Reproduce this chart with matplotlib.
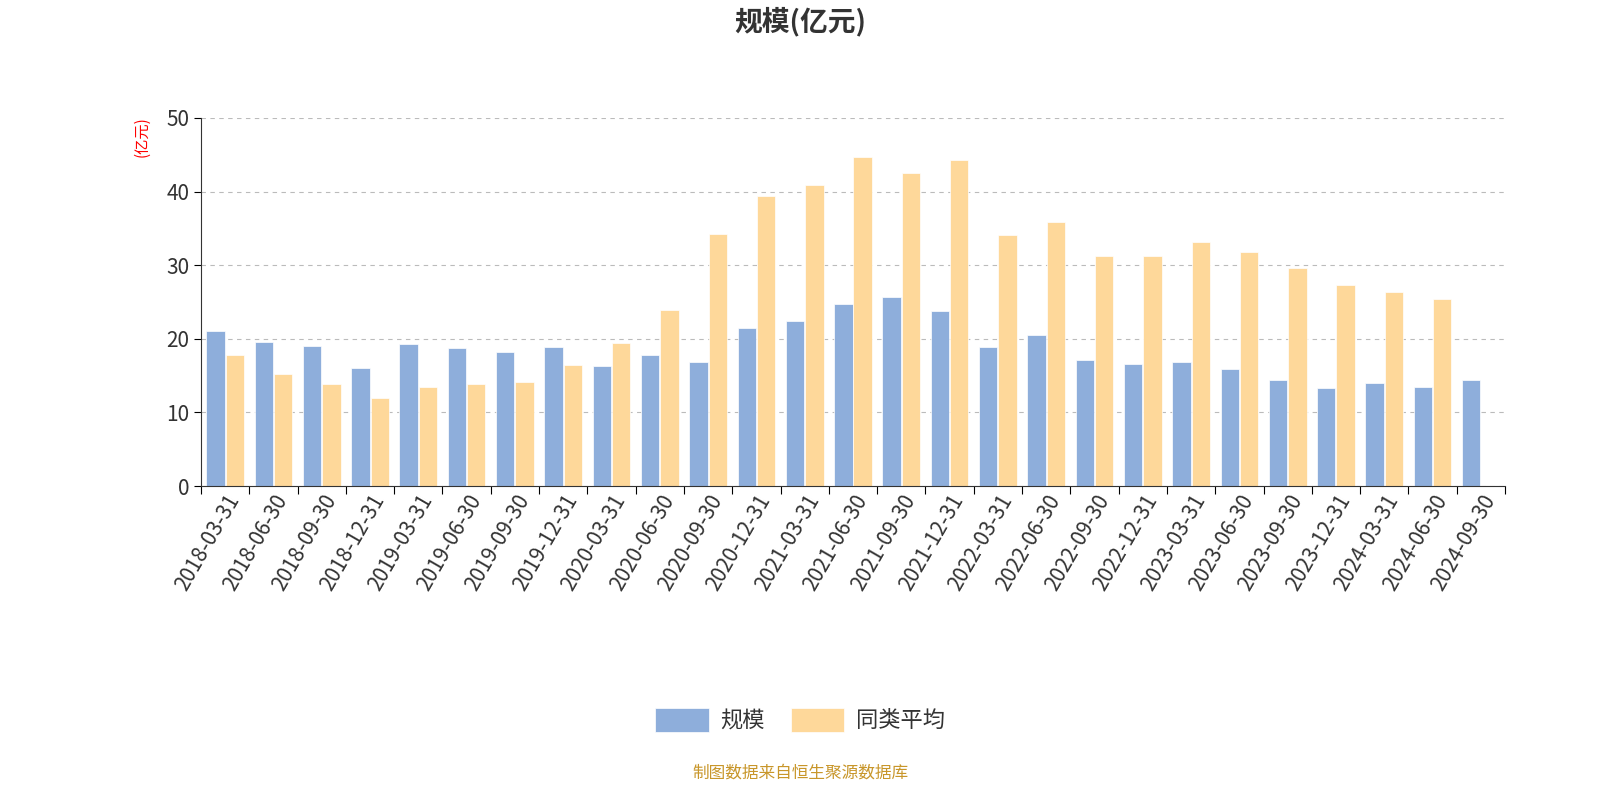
import matplotlib
matplotlib.use("Agg")
import matplotlib.pyplot as plt
from matplotlib import font_manager as fm
import numpy as np

cjk = None
for f in fm.findSystemFonts():
    if 'NotoSansCJK' in f.replace(' ', '') or 'CJK' in f:
        try:
            fm.fontManager.addfont(f)
        except Exception:
            pass
names = sorted({e.name for e in fm.fontManager.ttflist if 'CJK' in e.name})
for pref in ['Noto Sans CJK SC', 'Noto Sans CJK JP']:
    if pref in names:
        cjk = pref; break
if cjk is None and names:
    cjk = names[0]
plt.rcParams['font.family'] = [cjk] if cjk else ['DejaVu Sans']
plt.rcParams['axes.unicode_minus'] = False

dates = ["2018-03-31","2018-06-30","2018-09-30","2018-12-31","2019-03-31","2019-06-30","2019-09-30","2019-12-31",
         "2020-03-31","2020-06-30","2020-09-30","2020-12-31","2021-03-31","2021-06-30","2021-09-30","2021-12-31",
         "2022-03-31","2022-06-30","2022-09-30","2022-12-31","2023-03-31","2023-06-30","2023-09-30","2023-12-31",
         "2024-03-31","2024-06-30","2024-09-30"]
scale = [21.1,19.6,19.0,16.0,19.3,18.75,18.2,18.9,16.3,17.8,16.8,21.5,22.4,24.7,25.7,23.8,
         18.9,20.5,17.1,16.6,16.8,15.9,14.4,13.3,14.0,13.4,14.4]
peer = [17.8,15.2,13.9,12.0,13.5,13.9,14.1,16.4,19.4,23.9,34.2,39.4,40.9,44.7,42.5,44.3,
        34.1,35.9,31.2,31.2,33.2,31.8,29.6,27.3,26.4,25.4,np.nan]

fig = plt.figure(figsize=(16, 8), dpi=100)
ax = fig.add_axes([201/1600, 1-486/800, (1505-201)/1600, (486-118)/800])
x = np.arange(len(dates))
w = 0.38
ax.bar(x - 0.2, scale, w, color='#8eaedb', edgecolor='white', linewidth=0.5, label='规模')
ax.bar(x + 0.2, peer, w, color='#fed89a', edgecolor='white', linewidth=0.5, label='同类平均')
ax.set_xlim(-0.5, len(dates) - 0.5)
ax.set_ylim(0, 50)
ax.set_yticks(range(0, 51, 10))
ax.yaxis.grid(True, linestyle=(0, (4, 4)), color='#bbbbbb')
ax.set_axisbelow(True)
for s in ['top', 'right']:
    ax.spines[s].set_visible(False)
ax.spines['left'].set_color('#333333')
ax.spines['bottom'].set_color('#333333')
ax.set_xticks(np.arange(len(dates) + 1) - 0.5, minor=False, labels=[''] * (len(dates) + 1))
ax.set_xticks(x, minor=True, labels=dates)
ax.tick_params(axis='x', which='minor', length=0, labelsize=15, labelcolor='#333333', labelrotation=60)
for lbl in ax.get_xticklabels(minor=True):
    lbl.set_ha('right'); lbl.set_rotation_mode('anchor')
ax.tick_params(axis='x', which='major', length=6)
ax.tick_params(axis='y', labelsize=15, labelcolor='#333333', length=5)
ax.text(-0.045, 0.95, '(亿元)', transform=ax.transAxes, rotation=90, color='red', fontsize=11, ha='center', va='center')
fig.text(0.5, 1 - 22/800, '规模(亿元)', ha='center', va='center', fontsize=20, fontweight='bold', color='#333333')
leg = fig.legend(loc='center', bbox_to_anchor=(0.5, 1 - 720/800), ncol=2, frameon=False, fontsize=16,
                 handlelength=2.4, handleheight=1.3, columnspacing=1.2, handletextpad=0.5)
for t in leg.get_texts():
    t.set_color('#333333')
fig.text(0.5, 1 - 773/800, '制图数据来自恒生聚源数据库', ha='center', va='center', fontsize=12, color='#c8962a')
fig.savefig('out.png', dpi=100)
